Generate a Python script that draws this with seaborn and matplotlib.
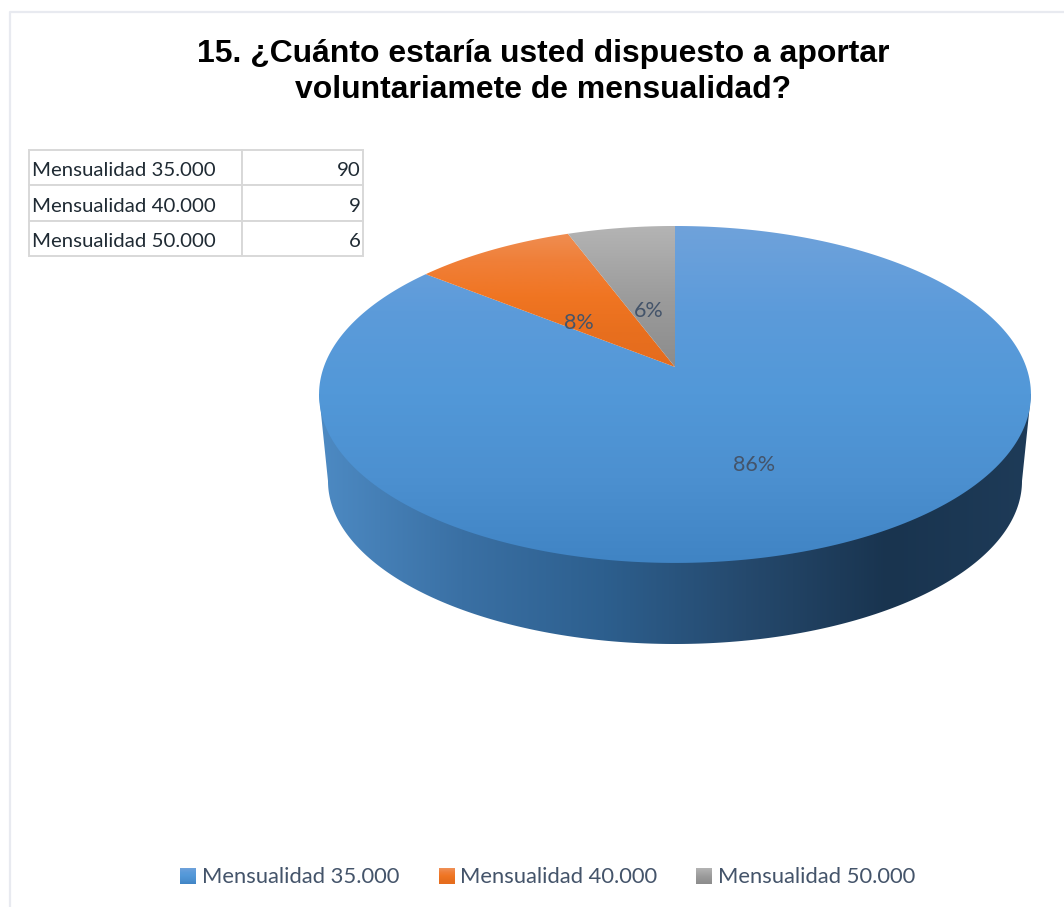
import numpy as np
import matplotlib
matplotlib.use("Agg")
import matplotlib.pyplot as plt
from matplotlib.patches import Patch, Polygon
from matplotlib.lines import Line2D
from matplotlib.transforms import Affine2D
import seaborn as sns

# Data
categories = ["Mensualidad 35.000", "Mensualidad 40.000", "Mensualidad 50.000"]
values = [90, 9, 6]
percent_labels = ["86%", "8%", "6%"]
title_lines = ["15. ¿Cuánto estaría usted dispuesto a aportar", "voluntariamete de mensualidad?"]

W, H = 1064, 907

# Perspective of the pie top, in pixels (apex of the slices at CX, CY)
CX, CY = 675, 367
A, B, K = 351.2, 164.0, 0.163


def tilt(pts):
    u, v = pts[:, 0], pts[:, 1]
    w = 1 + K * v
    return np.column_stack([CX + A * u / w, CY - B * v / w])


def fill_gradient(ax, clip, stops, box, vertical=True, zorder=2):
    cmap = sns.blend_palette(stops, n_colors=256, as_cmap=True)
    grad = np.linspace(0, 1, 256)
    grad = grad[:, None] if vertical else grad[None, :]
    x0, x1, y0, y1 = box
    im = ax.imshow(grad, cmap=cmap, extent=(x0, x1, y1, y0), aspect="auto",
                   interpolation="bilinear", zorder=zorder)
    im.set_clip_path(clip)
    return im


sns.set_theme(style="white")
plt.rcParams["font.family"] = ["Lato", "DejaVu Sans"]

fig = plt.figure(figsize=(W / 100, H / 100), dpi=100, facecolor="white")
ax = fig.add_axes([0, 0, 1, 1])

# Slices come from the pie, then get tilted
wedges, _ = ax.pie(values, startangle=90, counterclock=False, radius=1)
polys = []
for w in wedges:
    a = np.radians(np.linspace(w.theta1, w.theta2, 300))
    arc = np.column_stack([np.cos(a), np.sin(a)])
    w.set_visible(False)
    polys.append(tilt(np.vstack([[[0, 0]], arc])))

ax.set_aspect("auto")
ax.set_frame_on(False)

# Rim of the pie
t = np.linspace(0, np.pi, 300)
lower = np.column_stack([675 + 347 * np.cos(t), 481 + 163 * np.sin(t)])
rim_pts = np.vstack([[[1031, 394]], lower, [[319, 394]]])
rim = Polygon(rim_pts, closed=True, fc="none", ec="none", transform=ax.transData)
ax.add_patch(rim)
fill_gradient(ax, rim, ["#4D8AC3", "#3A70A4", "#2D5F8E", "#25496D", "#19344F", "#1E3B58"],
              (319, 1031, 300, 650), vertical=False, zorder=1)

top_stops = [
    ["#6FA2DB", "#5C9BDA", "#5298D8", "#4C90D0", "#4084C4"],
    ["#EF9158", "#F07F38", "#F07522", "#E86F1E", "#E56C1E"],
    ["#B4B4B4", "#A8A8A8", "#9C9C9C", "#949494", "#8C8C8C"],
]
for pts, stops in zip(polys, top_stops):
    patch = Polygon(pts, closed=True, fc="none", ec="none", transform=ax.transData)
    ax.add_patch(patch)
    y0, y1 = (226, 563) if stops is top_stops[0] else (226, 367)
    fill_gradient(ax, patch, stops, (319, 1031, y0, y1), zorder=2)

# Frame line at top and left
ax.add_line(Line2D([9.5, 9.5, W], [H, 12, 12], color="#E8EAF0", lw=1.6, zorder=1))

# Percent labels
for txt, x, y in zip(percent_labels, [754, 579, 649], [465, 323, 311]):
    ax.text(x, y, txt, color="#44546A", fontsize=15.5, ha="center", va="center", zorder=4)

# Title
for line, y in zip(title_lines, [54, 90]):
    ax.text(543, y, line, fontsize=22.95, fontweight="bold", family="Liberation Sans",
            color="black", ha="center", va="center")

ax.set_xlim(0, W)
ax.set_ylim(H, 0)

# Small table
tx0, tx1, ty0, ty1 = 29, 363, 150, 256
tbl = ax.table(cellText=[[c, v] for c, v in zip(categories, values)],
               colWidths=[213 / 334, 121 / 334],
               bbox=[tx0 / W, 1 - ty1 / H, (tx1 - tx0) / W, (ty1 - ty0) / H],
               zorder=3)
tbl.auto_set_font_size(False)
for (r, c), cell in tbl.get_celld().items():
    cell.set_edgecolor("#D8D8D8")
    cell.set_linewidth(1.4)
    cell.PAD = 0.016
    cell.set_text_props(fontsize=14.7, color="#1F2A33")
    cell.get_text().set_horizontalalignment("left" if c == 0 else "right")
    cell.get_text().set_transform(Affine2D().translate(0, -3))

# Legend
handles = [Patch(fc="none", ec="none") for _ in categories]
leg = ax.legend(handles, categories, ncols=3, loc="center", frameon=False,
                bbox_to_anchor=(548 / W, 1 - 877 / H), fontsize=15.8,
                handlelength=0.7, handleheight=0.7, handletextpad=0.3,
                columnspacing=1.77, labelcolor="#44546A")
fig.canvas.draw()
inv = ax.transData.inverted()
for h, stops in zip(leg.get_patches(), top_stops):
    bb = h.get_window_extent()
    (x0, y0), (x1, y1) = inv.transform([[bb.x0, bb.y0], [bb.x1, bb.y1]])
    top = min(y0, y1)
    ax.imshow(np.linspace(0, 1, 64)[:, None],
              cmap=sns.blend_palette(stops, n_colors=64, as_cmap=True),
              extent=(x0, x1, top + 16, top), aspect="auto", zorder=6)
ax.set_xlim(0, W)
ax.set_ylim(H, 0)

fig.savefig("out.png", dpi=100)
